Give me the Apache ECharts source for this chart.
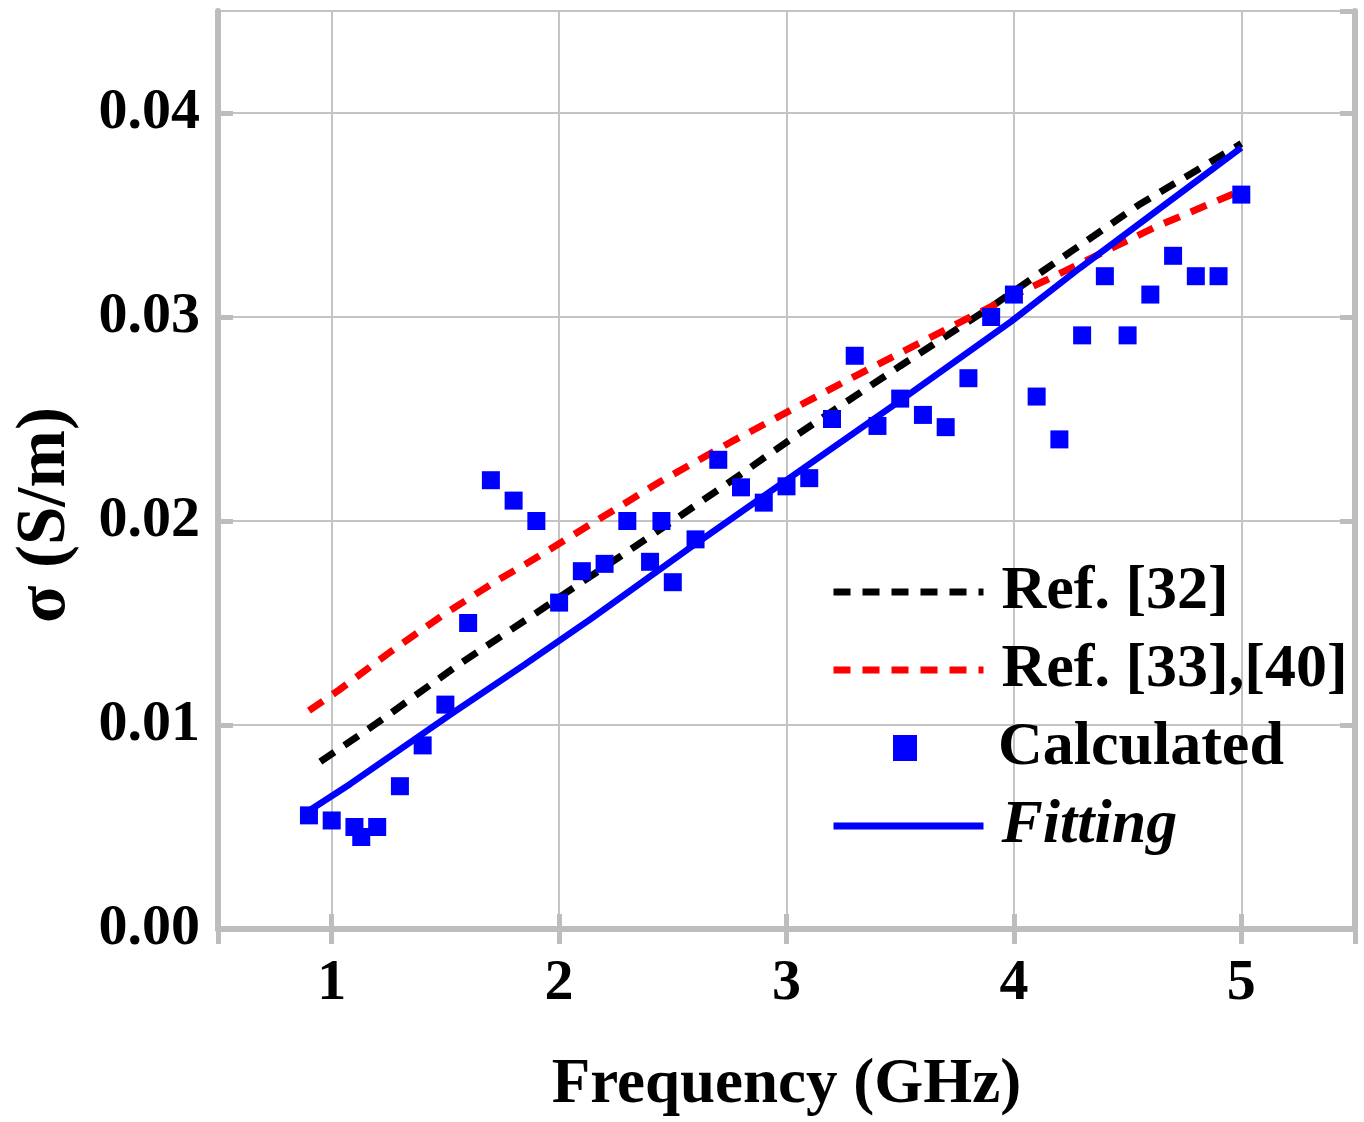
<!DOCTYPE html>
<html>
<head>
<meta charset="utf-8">
<script src="https://cdn.jsdelivr.net/npm/echarts@6/dist/echarts.min.js"></script>
<style>
html,body{margin:0;padding:0;background:#fff;}
#chart{width:1364px;height:1122px;}
</style>
</head>
<body>
<div id="chart"></div>
<script>
// ---- data ----
const calcFreq = [0.9,1.0,1.1,1.13,1.2,1.3,1.4,1.5,1.6,1.7,1.8,1.9,2.0,2.1,2.2,2.3,2.4,2.45,2.5,2.6,2.7,2.8,2.9,3.0,3.1,3.2,3.3,3.4,3.5,3.6,3.7,3.8,3.9,4.0,4.1,4.2,4.3,4.4,4.5,4.6,4.7,4.8,4.9,5.0];
const calcSigma = [0.00557,0.00532,0.0050,0.00451,0.0050,0.0070,0.0090,0.0110,0.0150,0.0220,0.0210,0.0200,0.0160,0.01754,0.0179,0.0200,0.0180,0.0200,0.0170,0.0191,0.0230,0.02165,0.0209,0.0217,0.0221,0.0250,0.0281,0.02466,0.0260,0.0252,0.0246,0.0270,0.0300,0.0311,0.0261,0.0240,0.0291,0.0320,0.0291,0.0311,0.0330,0.0320,0.0320,0.0360];

const ref32Freq = [0.95,1.2,1.55,1.9,2.1,2.5,2.8,3.03,3.15,3.5,3.9,4.25,4.55,5.0];
const ref32Sigma = [0.0082,0.0101,0.0129,0.0155,0.0170,0.0200,0.0223,0.0241,0.0250,0.0276,0.0305,0.0332,0.0355,0.0385];

const ref33Freq = [0.9,1.03,1.26,1.49,1.73,1.87,2.06,2.44,2.76,3.03,3.25,3.58,3.95,4.14,4.25,4.62,5.0];
const ref33Sigma = [0.0107,0.0117,0.0136,0.0154,0.0171,0.0180,0.0193,0.0219,0.0239,0.0255,0.0268,0.0287,0.0308,0.0318,0.0324,0.0344,0.0362];

const fitFreq = [0.9,1.08,1.52,1.84,2.14,2.59,3.0,3.5,3.99,4.29,5.0];
const fitSigma = [0.0058,0.0071,0.0105,0.0129,0.0152,0.0188,0.0220,0.0259,0.0298,0.0324,0.0383];

const legendNames = ['Ref. [32]', 'Ref. [33],[40]', 'Calculated', 'Fitting'];
const xTitle = 'Frequency (GHz)';
const yTitle = 'σ (S/m)';

// ---- helpers ----
const pairs = (xs, ys) => xs.map((x, i) => [x, ys[i]]);
const FONT = 'Liberation Serif';
const GRAY = '#bdbdbd';

const chart = echarts.init(document.getElementById('chart'), null, {renderer: 'canvas'});

const xLabelFmt = v => (Math.abs(v - Math.round(v)) < 1e-9 ? String(Math.round(v)) : '');
const yLabelFmt = v => (Math.abs(v * 100 - Math.round(v * 100)) < 1e-9 ? v.toFixed(2) : '');

const commonTick = {show: true, inside: true, length: 15, lineStyle: {color: GRAY, width: 5}};
const commonLine = {show: true, lineStyle: {color: GRAY, width: 6}};

const legendText = {fontFamily: FONT, fontWeight: 'bold', fontSize: 62, lineHeight: 64, color: '#000', padding: [0, 0, 0, 13]};
const hideSym = {opacity: 0};
const DASH = [17, 12];

const option = {
  backgroundColor: '#fff',
  animation: false,
  grid: {left: 218, right: 9, top: 11, bottom: 184, containLabel: false},
  xAxis: [
    {
      type: 'value', position: 'bottom', min: 0.5, max: 5.5,
      axisLine: commonLine, axisTick: commonTick,
      splitLine: {show: true, lineStyle: {color: '#c4c4c4', width: 2}},
      axisLabel: {formatter: xLabelFmt, fontFamily: FONT, fontWeight: 'bold', fontSize: 58, color: '#000', margin: 26, showMinLabel: false, showMaxLabel: false},
      name: xTitle, nameLocation: 'middle', nameGap: 125,
      nameTextStyle: {fontFamily: FONT, fontWeight: 'bold', fontSize: 63, color: '#000'}
    },
    {
      type: 'value', position: 'top', min: 0.5, max: 5.5,
      axisLine: commonLine, axisTick: commonTick,
      splitLine: {show: false}, axisLabel: {show: false}
    }
  ],
  yAxis: [
    {
      type: 'value', position: 'left', min: 0, max: 0.045,
      axisLine: commonLine, axisTick: commonTick,
      splitLine: {show: true, lineStyle: {color: '#c4c4c4', width: 2}},
      axisLabel: {formatter: yLabelFmt, fontFamily: FONT, fontWeight: 'bold', fontSize: 58, color: '#000', margin: 18, showMaxLabel: false}
    },
    {
      type: 'value', position: 'right', min: 0, max: 0.045,
      axisLine: commonLine, axisTick: commonTick,
      splitLine: {show: false}, axisLabel: {show: false}
    }
  ],
  legend: [
    {
      left: 830, top: 560, orient: 'vertical', padding: 0,
      itemWidth: 150, itemHeight: 26, itemGap: 14,
      lineStyle: {width: 7},
      textStyle: legendText,
      data: [
        {name: legendNames[0], itemStyle: hideSym},
        {name: legendNames[1], itemStyle: hideSym}
      ]
    },
    {
      left: 893, top: 716, orient: 'vertical', padding: 0,
      itemWidth: 24, itemHeight: 26, symbolKeepAspect: false,
      textStyle: Object.assign({}, legendText, {padding: [0, 0, 0, 76]}),
      data: [{name: legendNames[2], icon: 'rect'}]
    },
    {
      left: 830, top: 794, orient: 'vertical', padding: 0,
      itemWidth: 150, itemHeight: 26,
      lineStyle: {width: 7},
      textStyle: Object.assign({}, legendText, {fontStyle: 'italic'}),
      data: [{name: legendNames[3], itemStyle: hideSym}]
    }
  ],
  graphic: [{
    type: 'text', x: 46, y: 515, rotation: Math.PI / 2,
    style: {text: yTitle, fill: '#000', font: 'bold 69px "Liberation Serif"', textAlign: 'center', textVerticalAlign: 'middle', align: 'center', verticalAlign: 'middle'}
  }],
  series: [
    {
      name: legendNames[0], type: 'line', symbol: 'none', z: 3,
      data: pairs(ref32Freq, ref32Sigma),
      lineStyle: {color: '#000', width: 7, type: DASH},
      itemStyle: {color: '#000'}
    },
    {
      name: legendNames[1], type: 'line', symbol: 'none', z: 3,
      data: pairs(ref33Freq, ref33Sigma),
      lineStyle: {color: '#ff0000', width: 7, type: DASH},
      itemStyle: {color: '#ff0000'}
    },
    {
      name: legendNames[2], type: 'scatter', symbol: 'rect', symbolSize: 18, z: 5,
      data: pairs(calcFreq, calcSigma),
      itemStyle: {color: '#0000ff', opacity: 1}
    },
    {
      name: legendNames[3], type: 'line', symbol: 'none', z: 4,
      data: pairs(fitFreq, fitSigma),
      lineStyle: {color: '#0000ff', width: 6.5},
      itemStyle: {color: '#0000ff'}
    }
  ]
};
chart.setOption(option);
</script>
</body>
</html>
